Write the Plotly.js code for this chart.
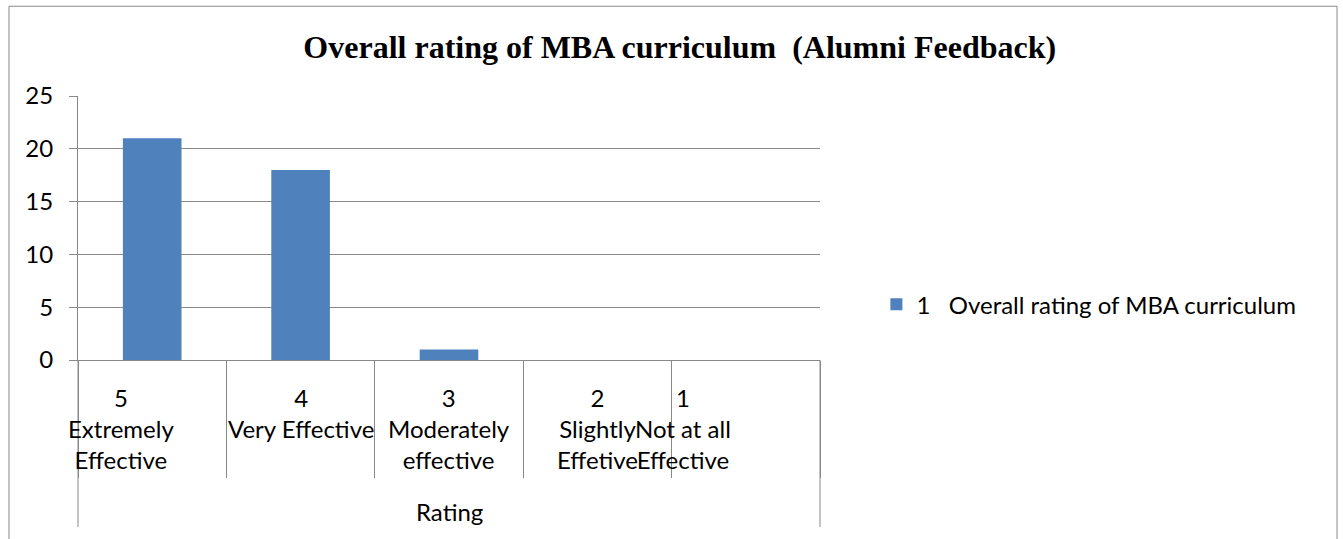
<!DOCTYPE html>
<html>
<head>
<meta charset="utf-8">
<script src="https://cdn.plot.ly/plotly-3.0.1.min.js"></script>
<style>
  html, body { margin: 0; padding: 0; background: #fff; }
  #chart { width: 1343px; height: 539px; }
</style>
</head>
<body>
<div id="chart"></div>
<script>
// ---- data ----
const ratingCodes = ["5", "4", "3", "2", "1"];
const ratingLabels = ["Extremely<br>Effective", "Very Effective", "Moderately<br>effective", "Slightly<br>Effetive", "Not at all<br>Effective"];
const counts = [21, 18, 1, 0, 0];
const seriesName = "1   Overall rating of MBA curriculum";
const axisGroupTitle = "Rating";
const chartTitle = "Overall rating of MBA curriculum  (Alumni Feedback)";
const yTicks = [0, 5, 10, 15, 20, 25];

// ---- styling ----
const gray = "#888888";
const font = "Lato, 'Open Sans', sans-serif";
const labelShift = [-31, 0, 0, 0, -63];

const annotations = ratingCodes.map((c, i) => ({
  xref: "x", yref: "paper",
  x: i, y: -0.078,
  xshift: labelShift[i],
  yanchor: "top", xanchor: "center", align: "center",
  text: c + "<br>" + ratingLabels[i],
  showarrow: false,
  font: { family: font, size: 24, color: "#000" }
}));
annotations.push({
  xref: "paper", yref: "paper", x: 0.5, y: -0.573,
  xanchor: "center", yanchor: "middle",
  text: axisGroupTitle, showarrow: false,
  font: { family: font, size: 24, color: "#000" }
});

const layout = {
  width: 1343, height: 539,
  margin: { l: 78, r: 523, t: 96, b: 179, pad: 0 },
  paper_bgcolor: "#fff", plot_bgcolor: "#fff",
  title: {
    text: "<b>" + chartTitle + "</b>",
    font: { family: "'Liberation Serif', 'Times New Roman', serif", size: 32, color: "#000" },
    xref: "paper", x: 0.811, xanchor: "center",
    yref: "container", y: 1 - 47 / 539, yanchor: "middle"
  },
  bargap: 0.605,
  xaxis: {
    type: "category",
    range: [-0.5, 4.5],
    showticklabels: false,
    tickson: "boundaries",
    ticks: "outside", ticklen: 117, tickcolor: gray, tickwidth: 1,
    showline: true, linecolor: gray, linewidth: 1,
    showgrid: false, zeroline: false, fixedrange: true
  },
  yaxis: {
    range: [0, 25],
    tickvals: yTicks,
    ticks: "outside", ticklen: 8, tickcolor: gray, tickwidth: 1,
    ticklabelstandoff: 11,
    showline: true, linecolor: gray, linewidth: 1,
    showgrid: true, gridcolor: gray, gridwidth: 1,
    zeroline: false,
    tickfont: { family: font, size: 24, color: "#000" },
    fixedrange: true
  },
  showlegend: true,
  legend: {
    x: 1.076, xanchor: "left", y: 0.21, yanchor: "middle",
    font: { family: font, size: 24, color: "#000" },
    bgcolor: "rgba(0,0,0,0)", borderwidth: 0
  },
  annotations: annotations,
  shapes: [
    // outer chart border
    { type: "rect", xref: "paper", yref: "paper", x0: -0.093, x1: 1.6968, y0: -1.2, y1: 1.340,
      line: { color: gray, width: 1 }, fillcolor: "rgba(0,0,0,0)", layer: "below" },
    // extended outer category dividers
    { type: "line", xref: "paper", yref: "paper", x0: 0, x1: 0, y0: 0, y1: -0.633, line: { color: gray, width: 1 } },
    { type: "line", xref: "paper", yref: "paper", x0: 1, x1: 1, y0: 0, y1: -0.633, line: { color: gray, width: 1 } }
  ]
};

const data = [{
  type: "bar",
  x: ratingCodes,
  y: counts,
  name: seriesName,
  marker: { color: "#4F81BD" },
  showlegend: true,
  hoverinfo: "x+y"
}];

Plotly.newPlot("chart", data, layout, { displayModeBar: false, staticPlot: true });
</script>
</body>
</html>
